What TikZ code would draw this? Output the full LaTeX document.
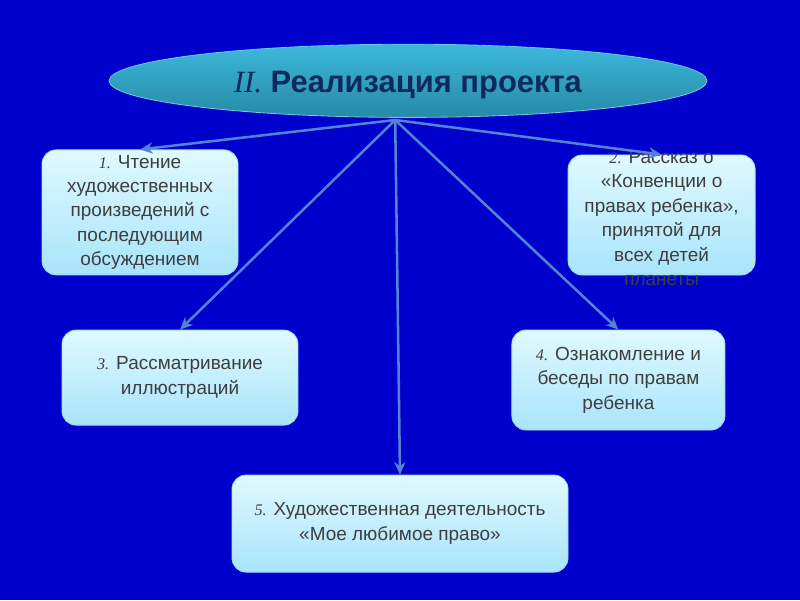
\documentclass[tikz,border=0pt]{standalone}
\usepackage{fontspec}
\setmainfont{Liberation Sans}
\newfontfamily\romfont{Liberation Serif}
\usetikzlibrary{shapes.geometric, arrows.meta}
\definecolor{bgblue}{RGB}{0,0,204}
\definecolor{arrblue}{RGB}{84,130,212}
\definecolor{ovaltop}{RGB}{60,184,220}
\definecolor{ovalbot}{RGB}{38,138,165}
\definecolor{ovalline}{RGB}{110,200,225}
\definecolor{boxtop}{RGB}{224,249,255}
\definecolor{boxbot}{RGB}{168,228,250}
\definecolor{txtgray}{RGB}{62,62,62}
\definecolor{navy}{RGB}{14,42,92}
\newcommand{\nr}[1]{{\romfont\itshape\fontsize{11.5}{14}\selectfont #1}}

\begin{document}
\begin{tikzpicture}
   \tikzstyle{box}=[draw=white!60!cyan, line width=0.6pt, rounded corners=10pt, top color=boxtop, bottom color=boxbot, text=txtgray, align=center, font=\fontsize{13.5}{17.4}\selectfont, inner sep=0pt]
   \tikzstyle{arr}=[arrblue, line width=1.8pt, -{Stealth[length=9pt,width=8pt]}]
     \fill[bgblue] (0,0) rectangle (20,15);
   %% title
\node[ellipse, draw=ovalline, line width=0.6pt, top color=ovaltop, bottom color=ovalbot, minimum width=14.95cm, minimum height=1.83cm, inner sep=0pt, text=navy, font=\fontsize{22}{26}\selectfont] (top) at (10.2,12.98) {\raisebox{-0.3cm}[0pt][0pt]{{\romfont\itshape II.} \textbf{Реализация проекта}}};
\coordinate (hub) at (9.88,12.0);
   %%boxes
\node[box, minimum width=4.9cm, minimum height=3.125cm] (b1) at (3.5,9.69) {\nr{1.} Чтение\\художественных\\произведений с\\последующим\\обсуждением};
\node[box, minimum width=4.675cm, minimum height=3cm] (b2) at (16.54,9.625) {};
\node[text=txtgray, align=center, font=\fontsize{13.5}{17.4}\selectfont] (t2) at (16.54,9.55) {\nr{2.} Рассказ о\\«Конвенции о\\правах ребенка»,\\принятой для\\всех детей\\планеты};
\node[box, minimum width=5.9cm, minimum height=2.375cm] (b3) at (4.5,5.56) {\nr{3.} Рассматривание\\иллюстраций};
\node[box, minimum width=5.325cm, minimum height=2.5cm] (b4) at (15.46,5.5) {\nr{4.} Ознакомление и\\беседы по правам\\ребенка};
\node[box, minimum width=8.4cm, minimum height=2.425cm] (b5) at (10,1.91) {\nr{5.} Художественная деятельность\\«Мое любимое право»};
   %% arrows
 \draw[arr] (hub) to (b1.north);
 \draw[arr] (hub) to (b2.north);
 \draw[arr] (hub) to (b3.north);
 \draw[arr] (hub) to (b4.north);
 \draw[arr] (hub) to (b5.north);
\end{tikzpicture}
\end{document}
